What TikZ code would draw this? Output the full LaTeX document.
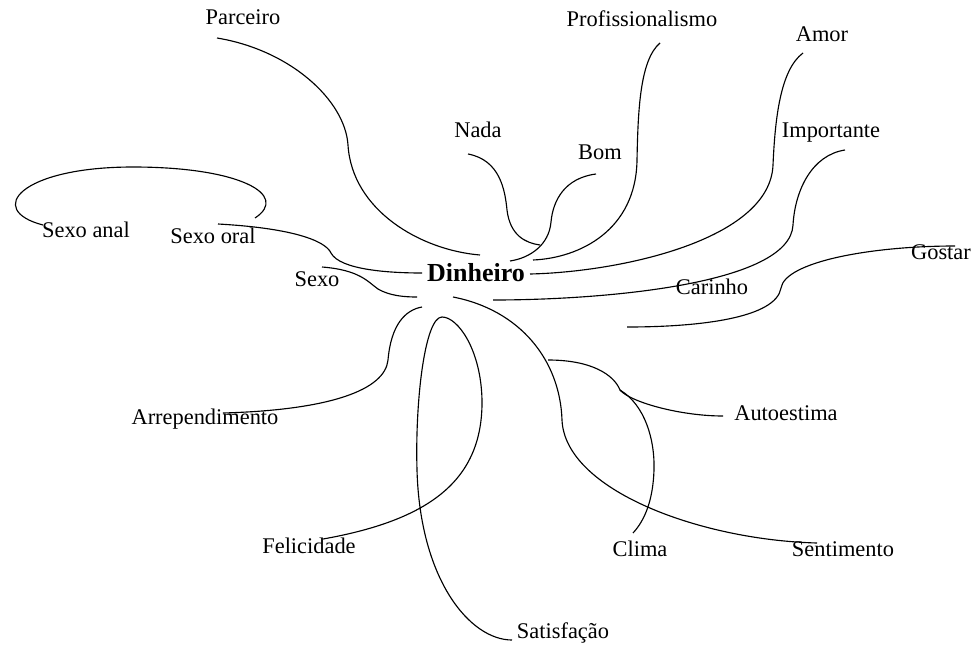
\documentclass[tikz,border=0pt]{standalone}
\usepackage{fontspec}
\setmainfont{Liberation Serif}
\begin{document}
\begin{tikzpicture}[x=0.75pt,y=-0.75pt,
  lbl/.style={inner sep=0pt,text height=0.66em,text depth=0pt,font=\fontsize{16.8}{20}\selectfont},
  hub/.style={inner sep=0pt,text height=0.66em,text depth=0pt,font=\fontsize{19.5}{23}\selectfont\bfseries},
  link/.style={draw=black,line width=0.85pt}]
\useasboundingbox (0,0) rectangle (973,646);
% labels
\node[hub] (dinheiro) at (476,277) {Dinheiro};
\node[lbl] (parceiro) at (243,20) {Parceiro};
\node[lbl] (prof) at (642,22) {Profissionalismo};
\node[lbl] (amor) at (822,37) {Amor};
\node[lbl] (nada) at (478,133) {Nada};
\node[lbl] (bom) at (600,155) {Bom};
\node[lbl] (importante) at (831,133) {Importante};
\node[lbl] (sexoanal) at (86,233) {Sexo anal};
\node[lbl] (sexooral) at (213,239) {Sexo oral};
\node[lbl] (sexo) at (317,282) {Sexo};
\node[lbl] (gostar) at (941,255) {Gostar};
\node[lbl] (carinho) at (712,290) {Carinho};
\node[lbl] (arrep) at (205,420) {Arrependimento};
\node[lbl] (autoestima) at (786,416) {Autoestima};
\node[lbl] (felicidade) at (309,549) {Felicidade};
\node[lbl] (clima) at (640,552) {Clima};
\node[lbl] (sentimento) at (843,552) {Sentimento};
\node[lbl] (satisfacao) at (563,634) {Satisfação};
% connector end points
\coordinate (cParceiro) at (217,38);
\coordinate (dParceiro) at (480,255);
\coordinate (cNada) at (468,154);
\coordinate (dNada) at (540,245);
\coordinate (cBom) at (596,174);
\coordinate (dBom) at (510,261);
\coordinate (cProf) at (660,43);
\coordinate (dProf) at (533,260);
\coordinate (cAmor) at (803,53);
\coordinate (dAmor) at (530,274);
\coordinate (cImp) at (845,150);
\coordinate (dImp) at (493,300);
\coordinate (cGostar) at (955,246);
\coordinate (dGostar) at (627,327);
\coordinate (cOral) at (218,224);
\coordinate (dOral) at (422,273);
\coordinate (cAnal) at (43,225);
\coordinate (dAnal) at (255,218);
\coordinate (cSexo) at (322,267);
\coordinate (dSexo) at (417,297);
\coordinate (cArrep) at (223,413);
\coordinate (dArrep) at (422,307);
\coordinate (cFel) at (323,539);
\coordinate (top) at (442,317);
\coordinate (cSat) at (512,640);
\coordinate (dSent) at (453,297);
\coordinate (cSent) at (817,543);
\coordinate (dAuto) at (548,360);
\coordinate (kink) at (620,390);
\coordinate (cAuto) at (723,416);
\coordinate (cClima) at (633,533);
% connectors
\draw[link] (cParceiro) .. controls (290,50) and (345,100) .. (348,145)
  .. controls (352,210) and (420,250) .. (dParceiro);
\draw[link] (cNada) .. controls (500,160) and (505,190) .. (507,210)
  .. controls (510,235) and (525,243) .. (dNada);
\draw[link] (cBom) .. controls (565,178) and (553,200) .. (551,222)
  .. controls (549,245) and (530,258) .. (dBom);
\draw[link] (cProf) .. controls (640,60) and (638,110) .. (637,160)
  .. controls (636,230) and (580,258) .. (dProf);
\draw[link] (cAmor) .. controls (780,70) and (775,120) .. (773,165)
  .. controls (770,240) and (620,272) .. (dAmor);
\draw[link] (cImp) .. controls (812,155) and (795,190) .. (793,225)
  .. controls (790,285) and (600,300) .. (dImp);
\draw[link] (cGostar) .. controls (870,246) and (785,262) .. (781,288)
  .. controls (776,318) and (700,327) .. (dGostar);
\draw[link] (cOral) .. controls (290,228) and (325,240) .. (331,253)
  .. controls (340,270) and (390,273) .. (dOral);
\draw[link] (cAnal) .. controls (-15,210) and (20,167) .. (133,167)
  .. controls (240,167) and (290,195) .. (dAnal);
\draw[link] (cSexo) .. controls (360,270) and (368,282) .. (378,289)
  .. controls (390,296) and (405,297) .. (dSexo);
\draw[link] (cArrep) .. controls (330,410) and (385,390) .. (388,360)
  .. controls (391,325) and (405,310) .. (dArrep);
\draw[link] (cFel) .. controls (430,520) and (483,480) .. (482,400)
  .. controls (481,350) and (458,317) .. (top)
  .. controls (425,317) and (415,400) .. (417,470)
  .. controls (420,580) and (470,640) .. (cSat);
\draw[link] (dSent) .. controls (520,310) and (560,360) .. (562,420)
  .. controls (565,490) and (700,540) .. (cSent);
\draw[link] (dAuto) .. controls (592,360) and (614,375) .. (kink)
  .. controls (630,402) and (680,416) .. (cAuto);
\draw[link] (kink) .. controls (645,405) and (655,440) .. (654,470)
  .. controls (653,500) and (645,520) .. (cClima);
\end{tikzpicture}
\end{document}
